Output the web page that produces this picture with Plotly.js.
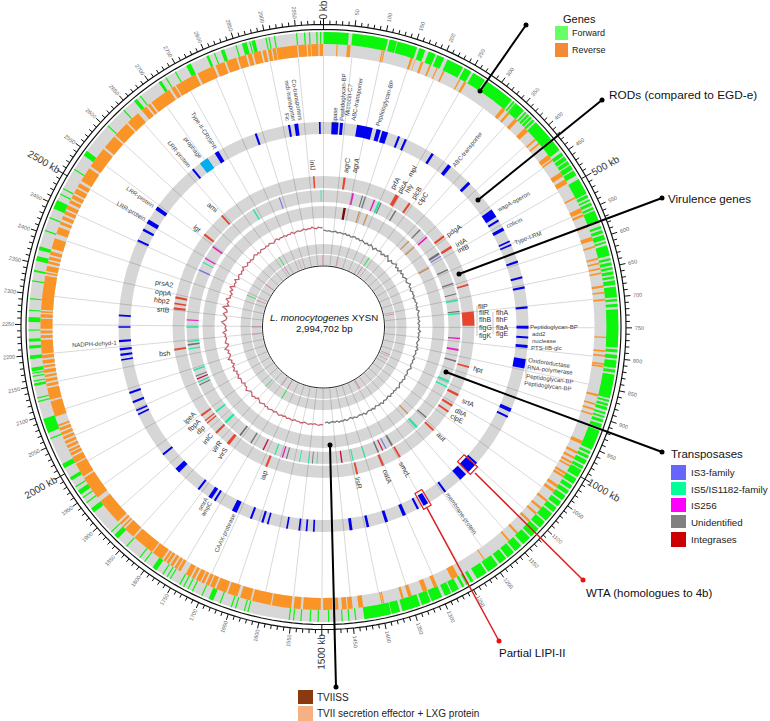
<!DOCTYPE html>
<html>
<head>
<meta charset="utf-8">
<script src="https://cdn.plot.ly/plotly-3.0.1.min.js"></script>
<style>html,body{margin:0;padding:0;background:#fff}</style>
</head>
<body>
<div id="grafico" style="width:770px;height:721px"></div>
<script>
const genomeKb = 2994.702;

// [start, end] in kb
const forwardGenes = [[0,41],[47,105],[108,120],[121,154],[158,168],[174,186],[189,201],[207,235],[238,250],[254,276],[281,330],[333,336],[338,341],[341,356],[359,362],[364,368],[370,374],[376,380],[383,420],[421,442],[447,453],[455,462],[464,470],[472,480],[482,491],[498,525],[527,532],[535,538],[541,546],[549,553],[555,575],[582,586],[589,594],[597,605],[608,611],[615,632],[636,640],[643,648],[651,655],[658,663],[666,670],[673,680],[683,700],[703,707],[711,716],[720,782],[785,790],[794,800],[803,815],[818,823],[826,865],[868,871],[874,878],[880,885],[889,892],[895,898],[901,906],[909,915],[920,953],[957,961],[964,969],[972,980],[983,988],[990,1003],[1006,1016],[1019,1026],[1029,1036],[1039,1048],[1051,1060],[1063,1072],[1075,1090],[1093,1105],[1108,1125],[1128,1143],[1147,1160],[1163,1176],[1179,1192],[1196,1215],[1218,1236],[1243,1248],[1252,1256],[1260,1264],[1270,1282],[1284,1295],[1300,1318],[1320,1335],[1338,1368],[1372,1386],[1387,1431],
  [1444,1446],[1455,1457],[1466,1468],[1488,1490],[1505,1507],[1518,1520],[1533,1535],[1545,1547],[1552,1554],[1620,1622],[1626,1628],[1641,1643],[1648,1650],[1667,1669],[1680,1688],[1699,1701],[1716,1718],[1724,1726],[1732,1734],[1739,1741],[1757,1759],[1763,1765],[1771,1773],[1784,1792],[1807,1809],[1817,1819],[1845,1847],[1865,1873],[1879,1881],[1922,1930],[1941,1943],[1951,1953],[1958,1966],[1972,1974],[1985,1991],[2008,2016],[2060,2062],[2071,2095],[2123,2125],[2129,2131],[2150,2154],[2157,2159],[2165,2167],[2170,2172],[2174,2180],[2194,2200],[2211,2216],[2222,2227],[2240,2242],[2254,2262],[2272,2274],[2291,2293],[2320,2322],[2336,2339],[2354,2362],[2372,2378],[2404,2406],[2426,2428],[2443,2458],[2468,2470],[2478,2480],[2514,2516],[2542,2551],[2603,2605],[2639,2641],[2662,2668],[2674,2676],[2712,2717],[2725,2727],[2743,2745],[2764,2772],[2800,2804],[2813,2815],[2825,2831],[2850,2852],[2861,2869],[2873,2875],[2877,2883],[2900,2902],[2905,2907],[2914,2916],[2950,2952],[2963,2965],[2971,2973],[2983,2985],[2989,2991]];

const reverseGenes = [[22,24],[40,46],[99,101],[102,104],[149,153],[157,158],[168,172],[183,186],[196,198],[208,211],[239,241],[248,252],[326,332],[338,342],[354,360],[377,385],[402,405],[411,414],[437,445],[447,450],[473,481],[487,495],[521,524],[542,550],[553,557],[574,577],[594,601],[610,613],[631,634],[639,642],[648,651],[656,659],[678,682],[689,692],[701,704],[765,767],[788,791],[796,799],[810,813],[814,817],[863,867],[879,882],[888,891],[897,900],[946,952],[966,970],[976,980],[985,989],[992,995],[1006,1010],[1012,1016],[1031,1036],[1041,1046],[1062,1066],[1078,1082],[1090,1094],[1107,1111],[1136,1140],[1155,1158],[1208,1210],[1261,1273],[1300,1306],[1318,1326],[1346,1352],[1360,1364],[1394,1396],[1397,1399],[1430,1438],[1448,1456],[1458,1466],
  [1472,1478],[1482,1498],[1502,1532],[1536,1548],[1552,1585],[1587,1619],[1622,1640],[1645,1662],[1665,1683],[1686,1694],[1696,1702],[1705,1710],[1712,1720],[1723,1728],[1731,1740],[1750,1755],[1757,1762],[1765,1770],[1773,1778],[1780,1784],[1787,1806],[1808,1846],[1849,1868],[1871,1874],[1877,1881],[1885,1930],[1938,1978],[1981,2005],[2007,2018],[2021,2026],[2028,2032],[2035,2040],[2043,2048],[2051,2056],[2059,2064],[2067,2072],[2075,2078],[2092,2119],[2122,2142],[2145,2150],[2153,2158],[2161,2165],[2168,2174],[2177,2181],[2184,2190],[2193,2199],[2201,2224],[2227,2232],[2235,2240],[2243,2260],[2262,2268],[2270,2273],[2275,2333],[2336,2339],[2341,2350],[2354,2358],[2361,2366],[2369,2375],[2380,2398],[2406,2418],[2423,2428],[2432,2438],[2442,2448],[2451,2458],[2462,2468],[2471,2478],[2481,2490],[2493,2500],[2505,2530],[2534,2570],[2574,2598],[2601,2628],[2631,2654],[2662,2672],[2675,2680],[2683,2720],[2724,2731],[2733,2771],[2775,2804],[2808,2824],[2827,2845],[2848,2862],[2865,2872],[2875,2888],[2891,2897],[2900,2906],[2908,2914],[2915,2950],[2952,2966],[2968,2973],[2974,2986],[2988,2994]];

// [centre, width] in kb
const rodMarks = [[27,16],[42,7],[97,37],[130,10],[146,14],[180,5],[197,5],[268,6],[316,9],[377,7],[468,20],[488,5],[511,8],[543,4],[552,4],[594,5],[632,5],[656,5],[703,5],[749,7],[773,5],[794,7],[835,22],[948,9],[965,5],[1096,5],[1112,22],[1140,18],[1194,5],[1248,12],[1269,5],[1304,8],[1348,7],[1393,6],[1433,7],[1520,4],[1537,4],[1554,4],[1583,4],[1629,4],[1642,5],[1670,5],[1712,12],[1764,5],[1777,9],[1810,5],[1876,12],[1926,5],[2036,4],[2046,4],[2067,5],[2090,5],[2169,4],[2181,5],[2194,5],[2213,5],[2246,4],[2273,4],[2454,5],[2482,6],[2504,10],[2541,9],[2665,5],[2733,10],[2834,5],[2914,5],[2931,9],[2986,4]];
const prophageMarks = [[2697,22]];
const virulenceMarks = [[67,7],[243,12],[290,7],[441,7],[482,8],[613,6],[722,45],[877,6],[972,8],[1010,7],[1033,6],[1108,6],[1244,6],[1304,7],[1390,6],[1683,7],[1824,10],[1875,7],[1917,4],[1927,4],[1947,6],[2174,6],[2305,7],[2321,5],[2340,7],[2561,7],[2642,6],[2964,5]];
const is3Marks = [[490,4],[1271,4],[2451,5],[2838,4]];
const is5Marks = [[200,7],[655,6],[702,4],[944,7],[964,5],[1140,9],[1350,4],[1393,4],[1520,3],[1550,3],[1581,3],[1671,4],[1878,8],[1928,6],[2048,4],[2093,5],[2169,4],[2195,4],[2246,5],[2481,4],[2738,5],[2986,3]];
const is256Marks = [[104,6],[182,5],[408,6],[789,5],[829,7],[1643,5],[2271,4],[2497,4],[2545,6]];
const unidentifiedMarks = [[138,4],[148,4],[207,4],[265,5],[373,5],[479,8],[543,5],[594,5],[632,4],[694,4],[869,5],[1093,5],[1247,6],[1301,5],[1536,3],[1628,4],[1764,5],[1810,6],[2038,4],[2071,4],[2184,6]];
const integraseMarks = [[1284,4],[1433,5],[1715,5],[2060,4]];
const tviissMarks = [[84,10]];
const tviiEffectorMarks = [[144,5],[177,5],[373,5],[405,5],[505,6],[1130,5]];
const innerGreenMarks = [[278,6],[1750,5],[1865,5],[2434,5],[2724,5]];
const innerPinkMarks = [[95,2],[274,3],[662,2],[937,3],[975,2],[1242,3],[1750,3],[1793,2],[2195,2],[2246,3],[2428,3],[2548,3],[2719,3],[2824,2],[2990,2]];

// GC line read every 10 kb
const gcGray = [97,96.5,96,96.5,95.5,96,96.5,95,96,95.5,95,96,94.5,95.5,94,95,95.5,94,95,93.5,95,94,93,94.5,93,95,94,92,94.5,93.5,94,95,92.5,94.5,93.5,96,94,92,95,93.5,94.5,96.5,93.5,95,93,96,94,95.5,93.5,95,96,94,95,97,94.5,95.5,94,96,95,96,94,95.5,95,96.5,95,96,94.5,97,95.5,95,96,95,96.5,94.5,96,95.5,95,97,95,96,95,96.5,95.5,94.5,96,95,97,95,96,95.5,94.5,96.5,95,96,95,95.5,97,95,94.5,96,95.5,95,96.5,95,96,94.5,95.5,97,95,96,95,96,95,96.5,94.5,95.5,96,95,97,95,96,95.5,94.5,96.5,95,96,95,95.5,97,95,96,95,95.5,96.5,95,96,94.5,95.5,96.5,95,96,95.5,96.5,95,96,95,95.5,96.5,95,96];
const gcRed = [98,97.5,98.5,98,97,98,97.5,98.5,98,97,98,98.5,97.5,98,97,98.5,98,97.5,98.5,97,98,97.5,99,98,97,98.5,97.5,98,99,97.5,98.5,97,98,99,97.5,96.5,98.5,98,99.5,97.5,97,98.5,100,97.5,98,96.5,99,98,97.5,99.5,97.5,98.5,97,100,98,99,96.5,98.5,97.5,100.5,98,97,99,97.5,101,98,96.5,99.5,98.5,97.5,99,98,100.5,97,98.5,97.5,99.5,102,98,97,99,101,97.5,98.5,103,97,99,98,101.5,97.5,98.5,97,100,98,102,97.5,99,98,100.5,97,98.5,99.5,97.5,99,98,100.5,98.5,97.5,99.5,98,99,97.5,98.5,100,98,99,97.5,99.5,98.5,98,99,98,99.5,98.5,97.5,99,100,98,99,98.5,99.5,98,99,98.5,100,98,99,99.5,98.5,99,100,98.5,99.5,99,100.5,99,98.5,100,99.5,99];

const cx = 323.5, cy = 327, plotR = 312;

function deg(kb) { return kb / genomeKb * 360; }

function anillo(inner, outer, color) {
    return { type: 'barpolar', theta: [180], width: [360], base: [inner], r: [outer - inner],
        marker: { color: color, line: { width: 0 } }, hoverinfo: 'skip' };
}

function intervalos(lista, inner, outer, color) {
    return { type: 'barpolar',
        theta: lista.map(d => deg((d[0] + d[1]) / 2)),
        width: lista.map(d => deg(d[1] - d[0])),
        base: lista.map(() => inner),
        r: lista.map(() => outer - inner),
        marker: { color: color, line: { width: 0 } }, hoverinfo: 'skip' };
}

function marcas(lista, inner, outer, color) {
    return intervalos(lista.map(d => [d[0] - d[1] / 2, d[0] + d[1] / 2]), inner, outer, color);
}

function circulo(r, color, ancho) {
    const theta = [];
    for (let t = 0; t <= 360; t += 2) theta.push(t);
    return { type: 'scatterpolar', mode: 'lines', theta: theta, r: theta.map(() => r),
        line: { color: color, width: ancho }, hoverinfo: 'skip' };
}

function marcasEje(lista, r0, r1, ancho) {
    const theta = [], r = [];
    lista.forEach(kb => { theta.push(deg(kb), deg(kb), null); r.push(r0, r1, null); });
    return { type: 'scatterpolar', mode: 'lines', theta: theta, r: r,
        line: { color: '#111', width: ancho }, hoverinfo: 'skip' };
}

function lineaGC(valores, inicio, color) {
    return { type: 'scatterpolar', mode: 'lines', theta: valores.map((v, i) => deg(inicio + i * 10)), r: valores,
        line: { color: color, width: 1.3 }, hoverinfo: 'skip' };
}

function recuadro(kb0, kb1) {
    return { type: 'scatterpolar', mode: 'lines',
        theta: [deg(kb0), deg(kb1), deg(kb1), deg(kb0), deg(kb0)], r: [190, 190, 208, 208, 190],
        line: { color: '#e01b1b', width: 1.2 }, hoverinfo: 'skip' };
}

const kb10 = [], kb50 = [], kb500 = [];
for (let k = 0; k < 2995; k += 10) {
    if (k % 500 === 0) kb500.push(k);
    else if (k % 50 === 0) kb50.push(k);
    else kb10.push(k);
}

const gris = 'rgba(0,0,0,0.16)';
const trazas = [
    anillo(0, 61, '#fff'),
    anillo(271, plotR, '#fff'),
    anillo(271, 295, '#d7d7d7'),
    anillo(193, 205, gris),
    anillo(139, 151, gris),
    anillo(125, 137, gris),
    anillo(109, 121, gris),
    anillo(73, 83, gris),
    anillo(62, 72, gris),
    intervalos(forwardGenes, 283, 295, '#0cf50c'),
    intervalos(reverseGenes, 271, 283, '#fb9426'),
    marcas(rodMarks, 193, 205, '#0000f0'),
    marcas(prophageMarks, 193, 205, '#00aef0'),
    marcas(virulenceMarks, 139, 151, '#e8452f'),
    marcas(is3Marks, 125, 137, '#7575e0'),
    marcas(is5Marks, 125, 137, '#1de9a0'),
    marcas(is256Marks, 125, 137, '#e81fc0'),
    marcas(unidentifiedMarks, 125, 137, '#6f6f78'),
    marcas(integraseMarks, 125, 137, '#c8103a'),
    marcas(tviissMarks, 109, 121, '#7a0a0a'),
    marcas(tviiEffectorMarks, 109, 121, '#c98d4e'),
    marcas(innerGreenMarks, 73, 83, '#22e84a'),
    marcas(innerPinkMarks, 62, 72, '#d8408a'),
    lineaGC(gcGray, 0, '#787878'),
    lineaGC(gcRed, 1500, '#c4636e'),
    circulo(61, '#222', 1),
    circulo(297.5, '#111', 1.2),
    circulo(302.5, '#111', 1.2),
    marcasEje(kb10, 302.5, 306.5, 1),
    marcasEje(kb50, 302.5, 308.5, 1),
    marcasEje(kb500, 297.5, 309, 1),
    recuadro(1100, 1124),
    recuadro(1238, 1258)
];

const notas = [];

function texto(x, y, txt, size, angulo, color, ancla) {
    notas.push({ xref: 'paper', yref: 'paper', x: x / 770, y: 1 - y / 721, text: txt, showarrow: false,
        textangle: angulo || 0, xanchor: ancla || 'center', yanchor: 'middle', borderpad: 0, borderwidth: 0,
        font: { family: 'Liberation Sans', size: size, color: color || '#222' } });
}

// etiquetas del eje, se voltean en la mitad izquierda
function etiquetaEje(kb, r, txt, size, color) {
    const t = deg(kb), a = t * Math.PI / 180;
    const ang = t < 180 ? t - 90 : t - 270;
    texto(cx + r * Math.sin(a), cy - r * Math.cos(a), txt, size, ang, color);
}
kb50.forEach(k => etiquetaEje(k, 316, String(k), 5.5, '#666'));
kb500.forEach(k => etiquetaEje(k, k === 0 ? 317 : 325, k + ' kb', 10, '#333'));

// anotaciones de RODs
[[287,117,'Fic',80],[290,100,'mdr-transporter',80],[297,100,'Co-transporters',80],[335,115,'lipase',-88],[343,97,'Peptidoglycan-BP',-87],[349,100,'Microcin-C7',-84],[357,100,'ABC-transporter',-80],[385,103,'Peptidoglycan-BP',-72],[467,150,'ABC-transporter',-51],[513,202,'wapA-operon',-28],[514,223,'colicin',-25],[528,238,'Type-I-RM',-20],[554,327,'Peptidoglycan-BP',0],[539,334,'add2',0],[544,341,'nuclease',0],[546,348,'PTS-IIB-glc',0],[549,363,'Oxidoreductase',8],[550,370,'RNA-polymerase',7],[550,379,'Peptidoglycan-BP',7],[548,386,'Peptidoglycan-BP',7],[461,513,'membrane-protein',55],[203,504,'smrA',-60],[207,508,'ampC',-60],[225,533,'CAAX-protease',-65],[94,344,'NADPH-dehyd-1',-3],[140,197,'LRR-protein',35],[131,211,'LRR-protein',30],[179,154,'LRR-protein',50],[193,148,'prophage',52],[204,131,'Type-II-CRISPR',58]]
    .forEach(d => texto(d[0], d[1], d[2], 6, d[3], '#444'));

// genes de virulencia
[[313,165,'inlJ',85],[347,166,'agrC',-82],[356,166,'agrA',-78],[396,183,'prfA',-60],[403,187,'plcA',-60],[413,171,'mpl',-60],[409,189,'hly',-60],[417,193,'plcB',-58],[423,199,'clpC',-55],[454,231,'pdgA',-35],[461,242,'inlA',-30],[463,248,'inlB',-25],[483,306,'fliP',0],[484,312,'fliR',0],[485,319,'flhB',0],[485,328,'flgG',0],[485,336,'flgK',0],[502,312,'flhA',0],[502,319,'flhF',0],[502,327,'flaA',0],[502,334,'flgE',0],[478,370,'hpt',17],[468,402,'srtA',22],[461,412,'dltA',27],[457,419,'clpE',27],[441,437,'aut',45],[405,469,'smcL',60],[388,477,'oatA',68],[359,483,'lisR',78],[264,476,'iap',-70],[190,418,'lpeA',-45],[195,425,'fbpA',-45],[201,430,'dlp',-45],[208,439,'inlC',-50],[217,447,'virR',-55],[222,453,'virS',-55],[164,353,'bsh',-3],[164,284,'prsA2',10],[163,293,'oppA',8],[162,301,'hbp2',7],[163,309,'srtB',5],[197,229,'lgt',40],[213,207,'ami',40]]
    .forEach(d => texto(d[0], d[1], d[2], 7, d[3], '#333'));

texto(324, 317, '<i>L. monocytogenes</i> XYSN', 9.7, 0, '#111');
texto(324, 328, '2,994,702 bp', 9.7, 0, '#111');

texto(563, 19, 'Genes', 11, 0, '#111', 'left');
texto(572, 33, 'Forward', 9, 0, '#222', 'left');
texto(572, 50, 'Reverse', 9, 0, '#222', 'left');
texto(609, 95, 'RODs (compared to EGD-e)', 11.8, 0, '#111', 'left');
texto(668, 198, 'Virulence genes', 11.6, 0, '#111', 'left');
texto(671, 454, 'Transposases', 11.5, 0, '#111', 'left');
texto(691, 472, 'IS3-family', 9.8, 0, '#222', 'left');
texto(691, 489, 'IS5/IS1182-family', 9.8, 0, '#222', 'left');
texto(691, 505, 'IS256', 9.8, 0, '#222', 'left');
texto(691, 522, 'Unidentified', 9.8, 0, '#222', 'left');
texto(691, 539, 'Integrases', 9.8, 0, '#222', 'left');
texto(586, 593, 'WTA (homologues to 4b)', 11.5, 0, '#111', 'left');
texto(499, 653, 'Partial LIPI-II', 11.5, 0, '#111', 'left');
texto(317, 697, 'TVIISS', 10, 0, '#222', 'left');
texto(317, 713, 'TVII secretion effector + LXG protein', 10, 0, '#222', 'left');

const formas = [];

function px(x) { return x / 770; }
function py(y) { return 1 - y / 721; }

function conector(x0, y0, x1, y1, color) {
    formas.push({ type: 'line', xref: 'paper', yref: 'paper', x0: px(x0), y0: py(y0), x1: px(x1), y1: py(y1), line: { color: color, width: 2 } });
    [[x0, y0], [x1, y1]].forEach(p => formas.push({ type: 'circle', xref: 'paper', yref: 'paper',
        x0: px(p[0] - 2.5), x1: px(p[0] + 2.5), y0: py(p[1] - 2.5), y1: py(p[1] + 2.5), fillcolor: color, line: { width: 0 } }));
}

function muestra(x0, y0, x1, y1, color) {
    formas.push({ type: 'rect', xref: 'paper', yref: 'paper', x0: px(x0), y0: py(y0), x1: px(x1), y1: py(y1), fillcolor: color, line: { width: 0 } });
}

function guia(x0, y0, x1, y1) {
    formas.push({ type: 'line', xref: 'paper', yref: 'paper', x0: px(x0), y0: py(y0), x1: px(x1), y1: py(y1), line: { color: '#aaa', width: 0.7 } });
}

conector(526, 25, 480, 91, '#000');
conector(602, 100, 478, 200, '#000');
conector(662, 198, 459, 274, '#000');
conector(662, 452, 446, 372, '#000');
conector(336, 687, 330, 445, '#000');
formas.push({ type: 'line', xref: 'paper', yref: 'paper', x0: px(583), y0: py(580), x1: px(475), y1: py(473), line: { color: '#e01b1b', width: 1.5 } });
formas.push({ type: 'circle', xref: 'paper', yref: 'paper', x0: px(580.5), x1: px(585.5), y0: py(577.5), y1: py(582.5), fillcolor: '#f01010', line: { width: 0 } });
formas.push({ type: 'line', xref: 'paper', yref: 'paper', x0: px(499), y0: py(641), x1: px(427), y1: py(508), line: { color: '#e01b1b', width: 1.5 } });
formas.push({ type: 'circle', xref: 'paper', yref: 'paper', x0: px(496.5), x1: px(501.5), y0: py(638.5), y1: py(643.5), fillcolor: '#f01010', line: { width: 0 } });

guia(477, 306, 477, 336);
guia(493, 312, 493, 334);
guia(526, 358, 526, 380);

muestra(555, 26, 568, 40, '#66ff66');
muestra(555, 43, 568, 57, '#f58a35');
muestra(671, 465, 686, 480, '#6666ff');
muestra(671, 482, 686, 495, '#00ff99');
muestra(671, 498, 686, 512, '#ff00ff');
muestra(671, 515, 686, 528, '#808080');
muestra(671, 532, 686, 547, '#cc0000');
muestra(298, 690, 313, 704, '#8b3a0f');
muestra(298, 706, 313, 721, '#f5b083');

const layout = {
    width: 770, height: 721,
    margin: { l: 0, r: 0, t: 0, b: 0, pad: 0 },
    paper_bgcolor: '#fff',
    showlegend: false,
    annotations: notas,
    shapes: formas,
    polar: {
        domain: { x: [(cx - plotR) / 770, (cx + plotR) / 770], y: [1 - (cy + plotR) / 721, 1 - (cy - plotR) / 721] },
        bgcolor: '#fff',
        barmode: 'overlay',
        radialaxis: { visible: false, range: [0, plotR] },
        angularaxis: {
            rotation: 90, direction: 'clockwise', showline: false, ticks: '', showticklabels: false,
            tickmode: 'array', tickvals: kb10.concat(kb50, kb500).filter(k => k % 50 === 0).map(deg),
            showgrid: true, gridcolor: '#c8c8c8', gridwidth: 0.7
        }
    }
};

Plotly.newPlot('grafico', trazas, layout, { staticPlot: true });
</script>
</body>
</html>
